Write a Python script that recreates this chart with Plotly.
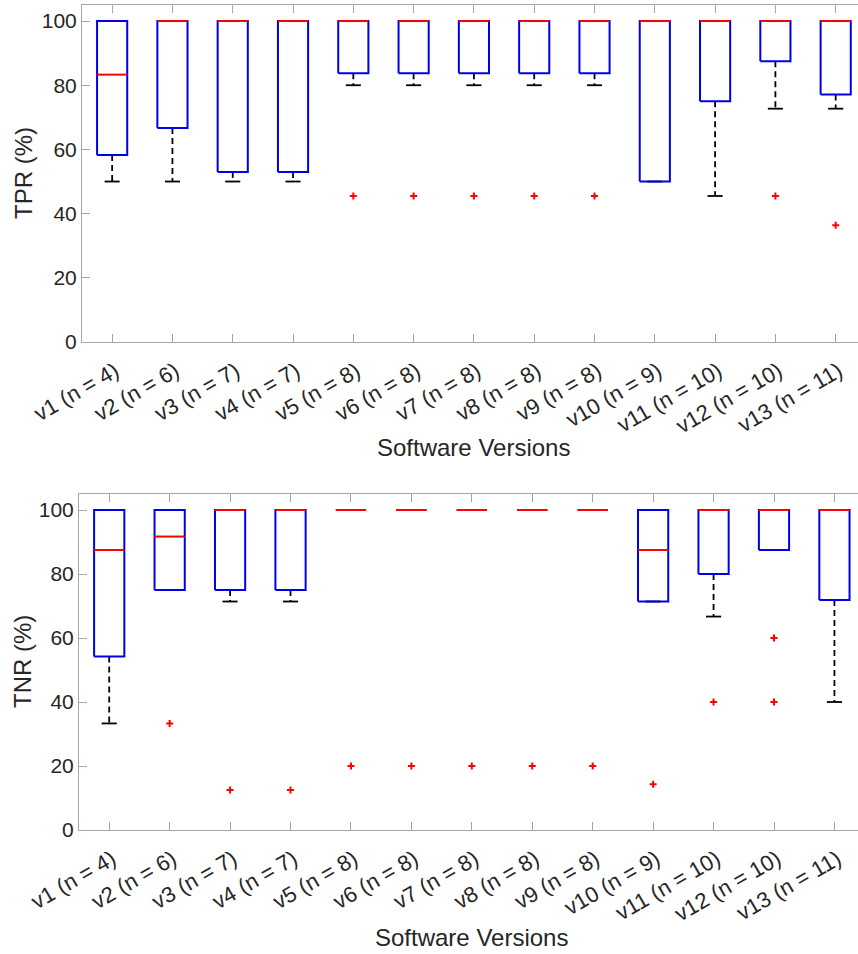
import plotly.graph_objects as go

# ---------------- data ----------------
labels = ["v1 (n = 4)", "v2 (n = 6)", "v3 (n = 7)", "v4 (n = 7)", "v5 (n = 8)",
          "v6 (n = 8)", "v7 (n = 8)", "v8 (n = 8)", "v9 (n = 8)", "v10 (n = 9)",
          "v11 (n = 10)", "v12 (n = 10)", "v13 (n = 11)"]

# TPR (%) box statistics
tpr_q1 = [58.3, 66.7, 53.0, 53.0, 83.7, 83.7, 83.7, 83.7, 83.7, 50.0, 75.0, 87.5, 77.1]
tpr_med = [83.3, 100, 100, 100, 100, 100, 100, 100, 100, 100, 100, 100, 100]
tpr_q3 = [100, 100, 100, 100, 100, 100, 100, 100, 100, 100, 100, 100, 100]
tpr_lo = [50.0, 50.0, 50.0, 50.0, 80.0, 80.0, 80.0, 80.0, 80.0, 50.0, 45.5, 72.7, 72.7]
tpr_hi = [100, 100, 100, 100, 100, 100, 100, 100, 100, 100, 100, 100, 100]
tpr_out_idx = [5, 6, 7, 8, 9, 12, 13]
tpr_out_val = [45.5, 45.5, 45.5, 45.5, 45.5, 45.5, 36.4]

# TNR (%) box statistics
tnr_q1 = [54.2, 75.0, 75.0, 75.0, 100, 100, 100, 100, 100, 71.4, 80.0, 87.5, 71.9]
tnr_med = [87.5, 91.7, 100, 100, 100, 100, 100, 100, 100, 87.5, 100, 100, 100]
tnr_q3 = [100, 100, 100, 100, 100, 100, 100, 100, 100, 100, 100, 100, 100]
tnr_lo = [33.3, 75.0, 71.4, 71.4, 100, 100, 100, 100, 100, 71.4, 66.7, 87.5, 40.0]
tnr_hi = [100, 100, 100, 100, 100, 100, 100, 100, 100, 100, 100, 100, 100]
tnr_out_idx = [2, 3, 4, 5, 6, 7, 8, 9, 10, 11, 12, 12]
tnr_out_val = [33.3, 12.5, 12.5, 20.0, 20.0, 20.0, 20.0, 20.0, 14.3, 40.0, 60.0, 40.0]

y_ticks = [0, 20, 40, 60, 80, 100]

# ---------------- styling ----------------
FONT = "Liberation Sans, Arial, Helvetica, sans-serif"
TXT = "#262626"
AXC = "#a6a6a6"
BLUE = "#0000e6"
RED = "#ff0000"
HALF_W = 0.25
CAP_W = 0.125
W, H = 858, 954

fig = go.Figure()


def add_boxes(q1, med, q3, lo, hi, out_idx, out_val, xa, ya):
    pos = list(range(1, len(q1) + 1))
    wx, wy, cx, cy = [], [], [], []
    for p, a, b, l, h in zip(pos, q1, q3, lo, hi):
        wx += [p, p, None, p, p, None]
        wy += [a, l, None, b, h, None]
        cx += [p - CAP_W, p + CAP_W, None, p - CAP_W, p + CAP_W, None]
        cy += [l, l, None, h, h, None]
    fig.add_trace(go.Scatter(x=wx, y=wy, mode="lines", xaxis=xa, yaxis=ya,
                             line=dict(color="black", width=1.8, dash="6px,4px"),
                             hoverinfo="skip", showlegend=False))
    fig.add_trace(go.Scatter(x=cx, y=cy, mode="lines", xaxis=xa, yaxis=ya,
                             line=dict(color="black", width=1.8),
                             hoverinfo="skip", showlegend=False))
    bx, by = [], []
    for p, a, b in zip(pos, q1, q3):
        bx += [p - HALF_W, p + HALF_W, p + HALF_W, p - HALF_W, p - HALF_W, None]
        by += [a, a, b, b, a, None]
    fig.add_trace(go.Scatter(x=bx, y=by, mode="lines", xaxis=xa, yaxis=ya,
                             line=dict(color=BLUE, width=2),
                             hoverinfo="skip", showlegend=False))
    mx, my = [], []
    for p, m in zip(pos, med):
        mx += [p - HALF_W, p + HALF_W, None]
        my += [m, m, None]
    fig.add_trace(go.Scatter(x=mx, y=my, mode="lines", xaxis=xa, yaxis=ya,
                             line=dict(color=RED, width=2),
                             hoverinfo="skip", showlegend=False))
    fig.add_trace(go.Scatter(x=out_idx, y=out_val, mode="markers", xaxis=xa, yaxis=ya,
                             marker=dict(symbol="cross-thin", size=5, color=RED,
                                         line=dict(color=RED, width=2)),
                             hoverinfo="skip", showlegend=False))


add_boxes(tpr_q1, tpr_med, tpr_q3, tpr_lo, tpr_hi, tpr_out_idx, tpr_out_val, "x", "y")
add_boxes(tnr_q1, tnr_med, tnr_q3, tnr_lo, tnr_hi, tnr_out_idx, tnr_out_val, "x2", "y2")

xcommon = dict(tickmode="array", tickvals=list(range(1, 14)), ticktext=labels,
               tickangle=-30, ticks="inside", ticklen=8, tickcolor=AXC,
               showline=True, linecolor=AXC, linewidth=1, mirror="ticks",
               showgrid=False, zeroline=False, automargin=False,
               ticklabelstandoff=7, ticklabelshift=3,
               tickfont=dict(family=FONT, size=22, color=TXT))
ycommon = dict(range=[0, 105], tickvals=y_ticks, ticks="inside", ticklen=8,
               tickcolor=AXC, showline=True, linecolor=AXC, linewidth=1,
               mirror=False, showgrid=False, zeroline=False, automargin=False,
               tickfont=dict(family=FONT, size=21, color=TXT))

ann = dict(xref="paper", yref="paper", showarrow=False, xanchor="center", yanchor="middle",
           font=dict(family=FONT, size=24, color=TXT))

fig.update_layout(
    width=W, height=H, plot_bgcolor="white", paper_bgcolor="white",
    margin=dict(l=0, r=0, t=0, b=0),
    xaxis=dict(domain=[82 / W, 1.0], range=[0.5, 13.37], anchor="y", **xcommon),
    yaxis=dict(domain=[1 - 342 / H, 1 - 5 / H], anchor="x", **ycommon),
    xaxis2=dict(domain=[79 / W, 1.0], range=[0.5, 13.39], anchor="y2", **xcommon),
    yaxis2=dict(domain=[1 - 830 / H, 1 - 494 / H], anchor="x2", **ycommon),
    annotations=[
        dict(text="Software Versions", x=474 / W, y=1 - 448 / H, **ann),
        dict(text="Software Versions", x=471 / W, y=1 - 937 / H, **ann),
        dict(text="TPR (%)", x=23 / W, y=1 - 173 / H, textangle=-90, **ann),
        dict(text="TNR (%)", x=22 / W, y=1 - 662 / H, textangle=-90, **ann),
    ],
)

fig.write_html("out.html")
